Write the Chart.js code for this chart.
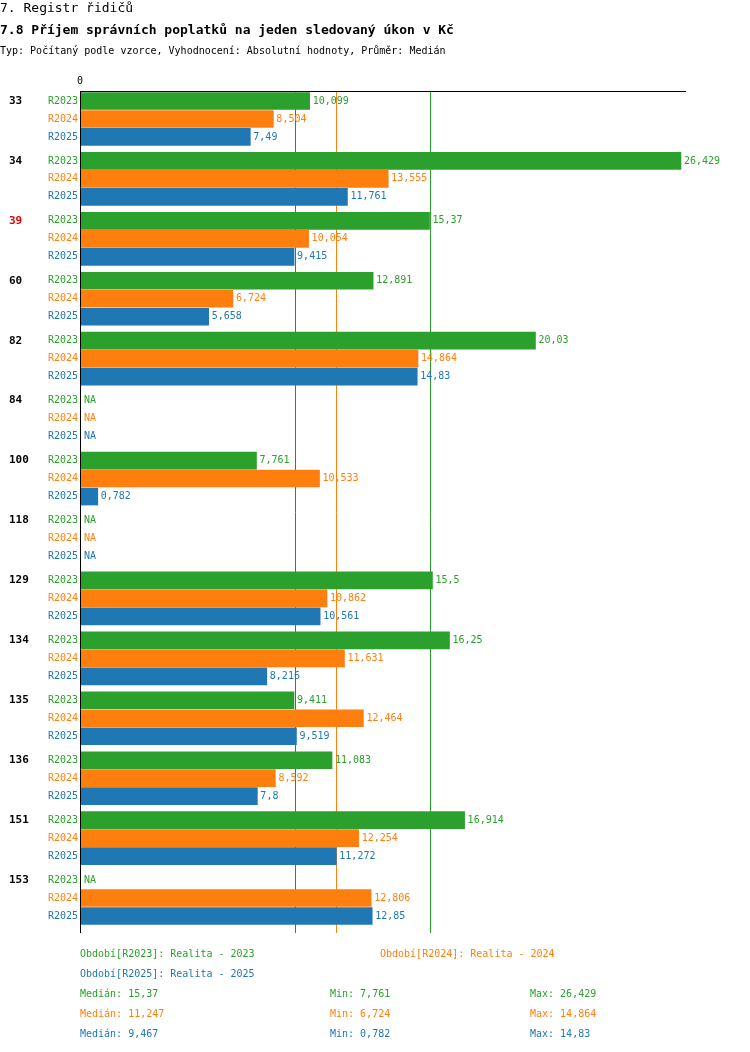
<!DOCTYPE html>
<html>
<head>
<meta charset="utf-8">
<script src="https://cdn.jsdelivr.net/npm/chart.js@4/dist/chart.umd.min.js"></script>
<style>body{margin:0;background:#fff}</style>
</head>
<body>
<canvas id="c" width="750" height="1052"></canvas>
<script>
const groups = ['33','34','39','60','82','84','100','118','129','134','135','136','151','153']
const seriesNames = ['R2023','R2024','R2025']
const r2023 = [10.099,26.429,15.37,12.891,20.03,null,7.761,null,15.5,16.25,9.411,11.083,16.914,null]
const r2024 = [8.504,13.555,10.054,6.724,14.864,null,10.533,null,10.862,11.631,12.464,8.592,12.254,12.806]
const r2025 = [7.49,11.761,9.415,5.658,14.83,null,0.782,null,10.561,8.216,9.519,7.8,11.272,12.85]
const medians = [15.37,11.247,9.467]
const mins = [7.761,6.724,0.782]
const maxs = [26.429,14.864,14.83]
const colors = ['#2ca02c','#ff7f0e','#1f77b4']
const legendTexts = ['Období[R2023]: Realita - 2023','Období[R2024]: Realita - 2024','Období[R2025]: Realita - 2025']

const FONT = '"DejaVu Sans Mono", monospace'
const fmt = v => String(v).replace('.', ',')
const all = [r2023, r2024, r2025]

// one dataset per series, y as linear position (group block of 60, row 18)
let datasets = all.map((arr, s) => ({
    label: seriesNames[s],
    data: arr.map((v, g) => ({x: v, y: g*60 + s*18})),
    backgroundColor: colors[s],
    barThickness: 17,
    grouped: false
}))

const drawer = {
    id: 'drawer',
    beforeDatasetsDraw(chart){
        let ctx = chart.ctx, a = chart.chartArea, xs = chart.scales.x
        ctx.save()
        medians.forEach((m, s) => {
            let px = Math.round(xs.getPixelForValue(m)) + 0.5
            ctx.strokeStyle = colors[s]; ctx.lineWidth = 1
            ctx.beginPath(); ctx.moveTo(px, a.top); ctx.lineTo(px, a.bottom); ctx.stroke()
        })
        ctx.restore()
    },
    afterDatasetsDraw(chart){
        let ctx = chart.ctx, a = chart.chartArea, xs = chart.scales.x, ys = chart.scales.y
        ctx.save()
        ctx.strokeStyle = '#000'; ctx.lineWidth = 1
        ctx.beginPath(); ctx.moveTo(a.left+0.5, a.top-1); ctx.lineTo(a.left+0.5, a.bottom); ctx.stroke()
        ctx.beginPath(); ctx.moveTo(a.left, a.top-0.5); ctx.lineTo(a.right, a.top-0.5); ctx.stroke()
        ctx.font = '10px ' + FONT; ctx.fillStyle = '#000'; ctx.textBaseline = 'middle'
        ctx.textAlign = 'center'; ctx.fillText('0', a.left, 81)
        groups.forEach((gname, g) => {
            let y0 = ys.getPixelForValue(g*60)
            ctx.font = 'bold 11px ' + FONT; ctx.textAlign = 'left'
            ctx.fillStyle = gname === '39' ? '#e00000' : '#000'
            ctx.fillText(gname, 9, y0)
            all.forEach((arr, s) => {
                let y = ys.getPixelForValue(g*60 + s*18)
                ctx.font = '10px ' + FONT; ctx.fillStyle = colors[s]
                ctx.textAlign = 'right'; ctx.fillText(seriesNames[s], 78, y)
                ctx.textAlign = 'left'
                let v = arr[g]
                if (v == null) ctx.fillText('NA', 84, y)
                else ctx.fillText(fmt(v), xs.getPixelForValue(v) + 3, y)
            })
        })
        // titles
        ctx.fillStyle = '#000'; ctx.textAlign = 'left'
        ctx.font = '13px ' + FONT; ctx.fillText('7. Registr řidičů', 0, 9)
        ctx.font = 'bold 13px ' + FONT; ctx.fillText('7.8 Příjem správních poplatků na jeden sledovaný úkon v Kč', 0, 31)
        ctx.font = '10px ' + FONT; ctx.fillText('Typ: Počítaný podle vzorce, Vyhodnocení: Absolutní hodnoty, Průměr: Medián', 0, 51)
        // footer legend
        ctx.fillStyle = colors[0]; ctx.fillText(legendTexts[0], 80, 954)
        ctx.fillStyle = colors[1]; ctx.fillText(legendTexts[1], 380, 954)
        ctx.fillStyle = colors[2]; ctx.fillText(legendTexts[2], 80, 974)
        for (let s = 0; s < 3; s++) {
            let y = 994 + s*20
            ctx.fillStyle = colors[s]
            ctx.fillText('Medián: ' + fmt(medians[s]), 80, y)
            ctx.fillText('Min: ' + fmt(mins[s]), 330, y)
            ctx.fillText('Max: ' + fmt(maxs[s]), 530, y)
        }
        ctx.restore()
    }
}

new Chart(document.getElementById('c').getContext('2d'), {
    type: 'bar',
    data: {datasets: datasets},
    options: {
        indexAxis: 'y',
        responsive: false,
        animation: false,
        layout: {padding: {left: 80, right: 64, top: 92, bottom: 119}},
        plugins: {legend: {display: false}, tooltip: {enabled: false}},
        scales: {
            x: {type: 'linear', min: 0, max: 26.65, display: false},
            y: {type: 'linear', min: -9, max: 833, reverse: true, offset: false, display: false}
        }
    },
    plugins: [drawer]
})
</script>
</body>
</html>
